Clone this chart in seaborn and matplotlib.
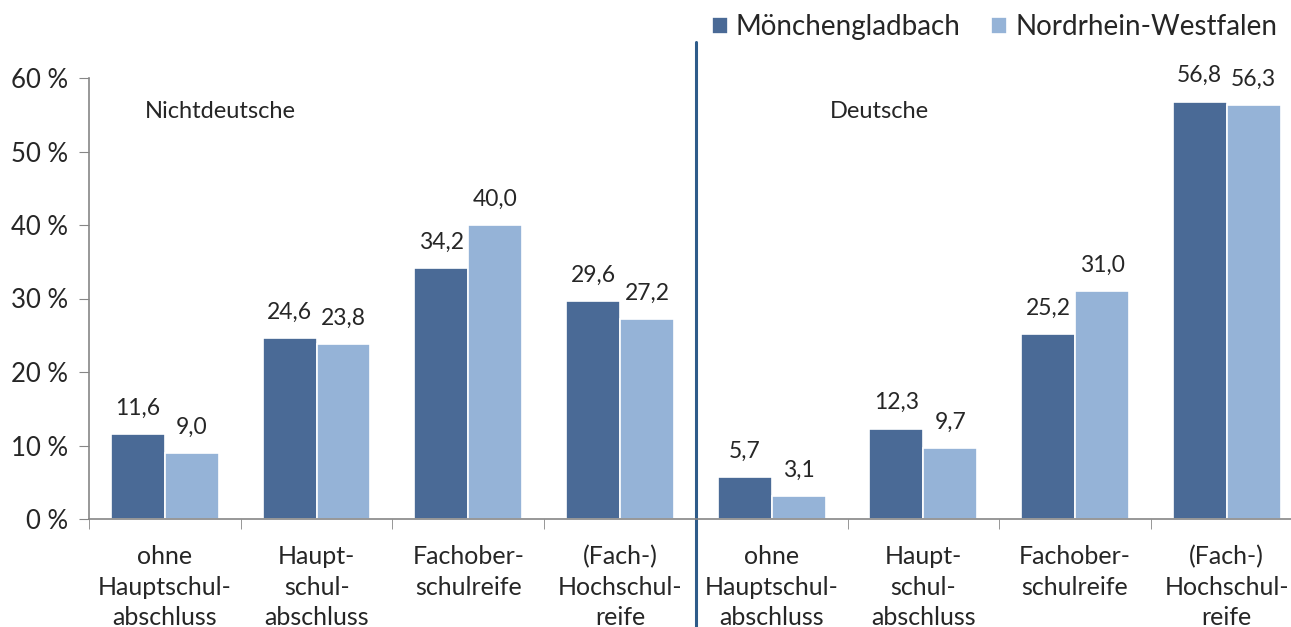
import pandas as pd
import matplotlib.pyplot as plt
import seaborn as sns
from matplotlib.ticker import FixedLocator

# data
groups = ['Nichtdeutsche'] * 4 + ['Deutsche'] * 4
abschluss = ['ohne\nHauptschul-\nabschluss', 'Haupt-\nschul-\nabschluss',
             'Fachober-\nschulreife', '(Fach-)\nHochschul-\nreife'] * 2
keys = ['N1', 'N2', 'N3', 'N4', 'D1', 'D2', 'D3', 'D4']
mg = [11.6, 24.6, 34.2, 29.6, 5.7, 12.3, 25.2, 56.8]
nrw = [9.0, 23.8, 40.0, 27.2, 3.1, 9.7, 31.0, 56.3]
series = ['Mönchengladbach', 'Nordrhein-Westfalen']
colors = ['#4A6A96', '#95B3D7']

df = pd.DataFrame({'key': keys * 2,
                   'wert': mg + nrw,
                   'reihe': [series[0]] * 8 + [series[1]] * 8})

sns.set_style('white')
plt.rcParams['font.family'] = ['Lato', 'DejaVu Sans']

fig = plt.figure(figsize=(12.91, 6.27), dpi=100)
cat_w = 151.7
ax = fig.add_axes([89 / 1291, 1 - 519 / 627, 8 * cat_w / 1291, 441 / 627])

sns.barplot(data=df, x='key', y='wert', hue='reihe', order=keys,
            palette=colors, saturation=1, width=0.71, edgecolor='white',
            linewidth=1.2, ax=ax, legend=True)

# value labels
for cont in ax.containers:
    ax.bar_label(cont, labels=[f'{v:.1f}'.replace('.', ',') for v in cont.datavalues],
                 padding=11, fontsize=16.5)

ax.set_ylim(0, 60)
ax.set_xlim(-0.5, 7.5)
ax.set_yticks(range(0, 61, 10))
ax.set_yticklabels([f'{v} %' for v in range(0, 61, 10)], fontsize=18.5)
ax.set_xticks(range(8))
ax.set_xticklabels(abschluss, fontsize=18, linespacing=1.38)
ax.tick_params(axis='x', length=0, pad=19)
ax.xaxis.set_minor_locator(FixedLocator([i - 0.5 for i in range(9)]))
ax.tick_params(axis='x', which='minor', length=7, color='#868686', direction='out', bottom=True)
ax.tick_params(axis='y', length=7, color='#868686', direction='out', left=True, pad=8)
ax.set_xlabel('')
ax.set_ylabel('')

for s in ['top', 'right']:
    ax.spines[s].set_visible(False)
for s in ['left', 'bottom']:
    ax.spines[s].set_color('#868686')
    ax.spines[s].set_linewidth(1.2)

# divider between the groups
ax.plot([3.5, 3.5], [-108 / 441, (519 - 42) / 441], transform=ax.get_xaxis_transform(),
        color='#2E5C8A', linewidth=2.2, clip_on=False)

ax.text(-0.13, 55.4, groups[0], fontsize=17, va='center', ha='left')
ax.text(4.385, 55.4, groups[4], fontsize=17, va='center', ha='left')

ax.legend(loc='upper right', bbox_to_anchor=(1277 / 1291, 1 - 14 / 627),
          bbox_transform=fig.transFigure, ncol=2, frameon=False, fontsize=20,
          handlelength=0.55, handleheight=0.55, handletextpad=0.3,
          columnspacing=1.1, borderaxespad=0, borderpad=0)

fig.savefig('out.png', dpi=100)
